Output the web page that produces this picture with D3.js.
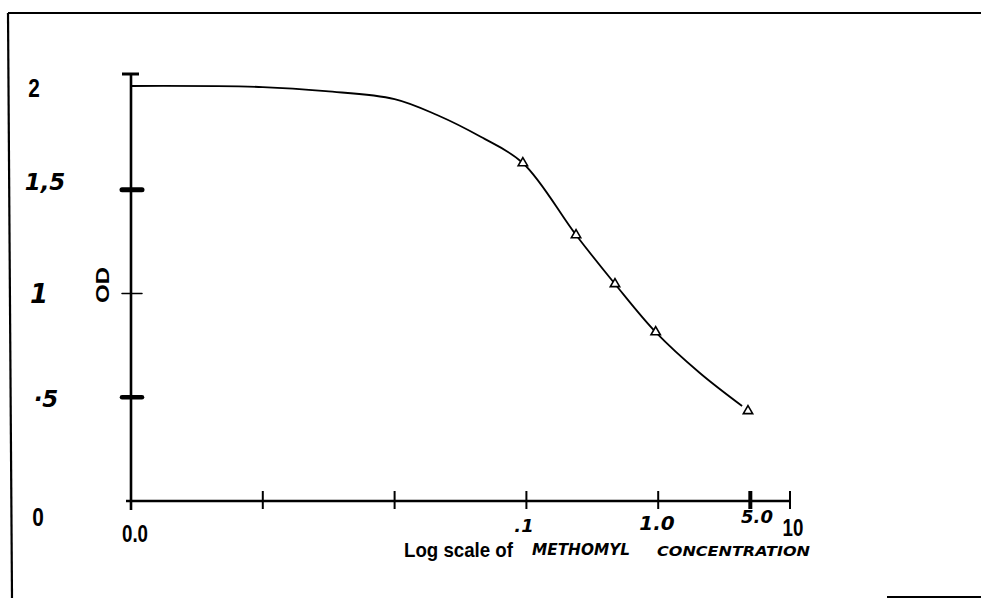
<!DOCTYPE html>
<html>
<head>
<meta charset="utf-8">
<script src="https://cdn.jsdelivr.net/npm/d3@7"></script>
<style>
  html, body { margin: 0; padding: 0; background: #fff; }
  svg { display: block; }
  .print { font-family: "Liberation Sans", Arial, sans-serif; font-weight: bold; }
  .hand { font-family: "DejaVu Sans", sans-serif; font-style: italic; font-weight: bold; }
</style>
</head>
<body>
<svg id="chart" width="981" height="598"></svg>
<script>
// OD versus methomyl concentration (log scale)
let curve_conc = [0.0001, 0.001, 0.003, 0.01, 0.021, 0.045, 0.094, 0.238, 0.47, 0.957, 2.07, 4.33];
let curve_od   = [2.0, 1.995, 1.975, 1.937, 1.86, 1.755, 1.629, 1.282, 1.046, 0.814, 0.617, 0.458];

let point_conc = [0.094, 0.238, 0.47, 0.957, 4.8];
let point_od   = [1.629, 1.282, 1.046, 0.814, 0.434];

let x_ticks = [0.0001, 0.001, 0.01, 0.1, 1, 5, 10];
let x_tick_labels = ["0.0", "", "", ".1", "1.0", "5.0", "10"];
let y_ticks = [2, 1.5, 1, 0.5, 0];
let y_tick_labels = ["2", "1,5", "1", "\u00b75", "0"];

function render(svg) {
    let x = d3.scaleLog().domain([0.0001, 10]).range([131, 790]);
    let y = d3.scaleLinear().domain([0, 2]).range([501, 86]);

    // scanned page frame
    svg.append("line").attr("x1", 8).attr("y1", 13).attr("x2", 981).attr("y2", 13)
        .attr("stroke", "#000").attr("stroke-width", 2.2);
    svg.append("line").attr("x1", 8).attr("y1", 13).attr("x2", 12).attr("y2", 598)
        .attr("stroke", "#000").attr("stroke-width", 2.2);
    svg.append("line").attr("x1", 887).attr("y1", 597).attr("x2", 981).attr("y2", 597)
        .attr("stroke", "#000").attr("stroke-width", 2);

    // axes
    let axes = svg.append("g").attr("stroke", "#000").attr("fill", "none");
    axes.append("line").attr("x1", x(0.0001)).attr("y1", y(2) - 12).attr("x2", x(0.0001)).attr("y2", y(0) + 9)
        .attr("stroke-width", 2.6);
    axes.append("line").attr("x1", x(0.0001) - 9).attr("y1", y(2) - 12).attr("x2", x(0.0001) + 8).attr("y2", y(2) - 12)
        .attr("stroke-width", 3);
    axes.append("line").attr("x1", x(0.0001) - 5).attr("y1", y(0)).attr("x2", x(10)).attr("y2", y(0))
        .attr("stroke-width", 2.6);

    // y ticks: bold at .5 and 1.5, thin at 1
    [[1.5, 5], [0.5, 4.5], [1, 1.5]].forEach(t => {
        axes.append("line")
            .attr("x1", x(0.0001) - 9).attr("x2", x(0.0001) + 11)
            .attr("y1", y(t[0])).attr("y2", y(t[0]))
            .attr("stroke-width", t[1]).attr("stroke-linecap", "round");
    });

    // x ticks
    x_ticks.forEach(t => {
        let w = (t === 5) ? 4 : 2;
        axes.append("line")
            .attr("x1", x(t)).attr("x2", x(t))
            .attr("y1", y(0) - 10).attr("y2", y(0) + 8)
            .attr("stroke-width", w);
    });

    // y tick labels
    let y_pos = [[34, 97, "print", 26], [45, 190, "hand", 23], [39, 303, "hand", 26], [46, 407, "hand", 23], [38, 526, "print", 26]];
    y_ticks.forEach((t, i) => {
        svg.append("text")
            .attr("class", y_pos[i][2])
            .attr("x", y_pos[i][0]).attr("y", y_pos[i][1])
            .attr("text-anchor", "middle")
            .attr("font-size", y_pos[i][3])
            .attr("transform", y_pos[i][2] === "print" ? `translate(${y_pos[i][0]},0) scale(0.8,1) translate(${-y_pos[i][0]},0)` : null)
            .text(y_tick_labels[i]);
    });

    // x tick labels
    let x_pos = [[135, 542, "print", 24], null, null, [524, 532, "hand", 18], [657, 530, "hand", 20], [757, 523, "hand", 18], [793, 536, "print", 24]];
    x_ticks.forEach((t, i) => {
        if (!x_pos[i]) return;
        let p = x_pos[i];
        svg.append("text")
            .attr("class", p[2])
            .attr("x", p[0]).attr("y", p[1])
            .attr("text-anchor", "middle")
            .attr("font-size", p[3])
            .attr("transform", p[2] === "print" ? `translate(${p[0]},0) scale(0.78,1) translate(${-p[0]},0)` : null)
            .text(x_tick_labels[i]);
    });

    // axis titles
    svg.append("text")
        .attr("class", "print")
        .attr("transform", "translate(109,285) rotate(-90)")
        .attr("text-anchor", "middle")
        .attr("font-size", 19)
        .attr("textLength", 36).attr("lengthAdjust", "spacingAndGlyphs")
        .text("OD");
    svg.append("text")
        .attr("class", "print")
        .attr("x", 404).attr("y", 557)
        .attr("font-size", 21)
        .attr("textLength", 109).attr("lengthAdjust", "spacingAndGlyphs")
        .text("Log scale of");
    svg.append("text")
        .attr("class", "hand")
        .attr("x", 532).attr("y", 555)
        .attr("font-size", 15)
        .attr("textLength", 98).attr("lengthAdjust", "spacingAndGlyphs")
        .text("METHOMYL");
    svg.append("text")
        .attr("class", "hand")
        .attr("x", 657).attr("y", 556)
        .attr("font-size", 14)
        .attr("textLength", 153).attr("lengthAdjust", "spacingAndGlyphs")
        .text("CONCENTRATION");

    // fitted curve
    let line = d3.line()
        .x((d, i) => x(curve_conc[i]))
        .y((d, i) => y(curve_od[i]))
        .curve(d3.curveCatmullRom.alpha(0.5));
    svg.append("path")
        .attr("d", line(curve_conc))
        .attr("fill", "none")
        .attr("stroke", "#000")
        .attr("stroke-width", 1.8);

    // measured points
    svg.append("g")
      .selectAll("path")
      .data(point_conc)
      .enter().append("path")
        .attr("d", d3.symbol(d3.symbolTriangle, 38))
        .attr("transform", (d, i) => "translate(" + x(d) + "," + y(point_od[i]) + ")")
        .attr("fill", "#fff")
        .attr("stroke", "#000")
        .attr("stroke-width", 1.6);
}

render(d3.select("#chart"));
</script>
</body>
</html>
